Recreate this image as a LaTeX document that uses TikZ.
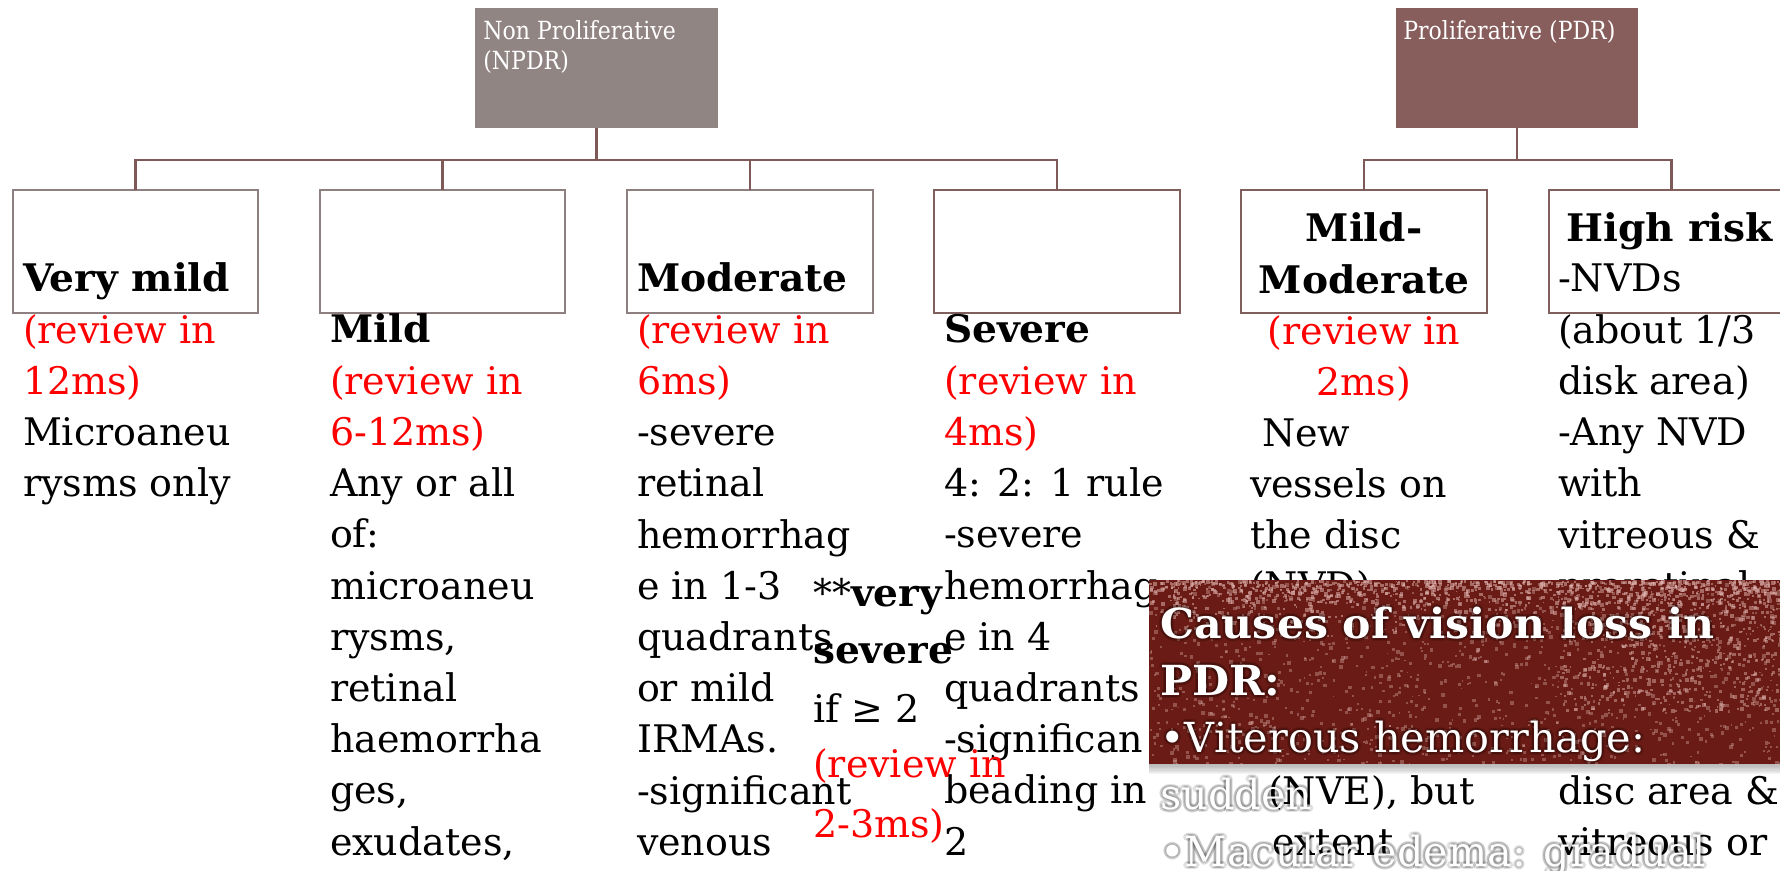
\documentclass[tikz,border=0pt]{standalone}
\usepackage{fontspec}
\setmainfont{DejaVu Serif}[BoldFeatures={FakeStretch=1.03}]
\newfontfamily\labelfont{DejaVu Serif}[FakeStretch=0.88]
\definecolor{npdrfill}{HTML}{918584}
\definecolor{pdrfill}{HTML}{875E5C}
\definecolor{linkcol}{HTML}{7E5957}
\definecolor{boxline}{HTML}{8E8080}
\definecolor{causefill}{HTML}{6B1B15}
\definecolor{speck}{HTML}{E3B9B4}
\newcommand\rv[1]{\textcolor{red}{#1}}
% a column of text lines on a fixed line pitch
\newcommand\bodycol[5]{%
  \foreach \lineT [count=\k from 0] in {#5}{%
    \node[#2] (#1-\k) at (#3,{#4+51.2*\k}) {\lineT};}}
% white text with a soft dark halo
\newcommand\glowtext[4]{%
  \foreach \dx/\dy [count=\g] in {-2/-2,2/-2,-2/2,2/2,0/3,3/0,-3/0,0/-3,0/0}{%
    \node[#4, text=black, opacity=0.12] (#1-g\g) at ({#2+\dx},{#3+\dy}) {\glowT};}%
  \node[#4, text=white] (#1) at (#2,#3) {\glowT};}
\begin{document}
\begin{tikzpicture}[x=0.5pt,y=-0.5pt,
  body/.style={anchor=base west, inner sep=0pt, outer sep=0pt,
    font=\fontsize{19pt}{22pt}\selectfont},
  bodyc/.style={body, anchor=base},
  headtxt/.style={anchor=base west, inner sep=0pt, text=white,
    font=\labelfont\fontsize{12.5pt}{15pt}\selectfont},
  headbox/.style={minimum width=121.2pt, minimum height=60pt,
    inner sep=0pt, outer sep=0pt},
  childbox/.style={draw=boxline, line width=1pt, fill=white,
    minimum width=122.85pt, minimum height=61.5pt, inner sep=0pt, outer sep=0pt},
  conn/.style={draw=linkcol, line width=1.25pt},
  causebox/.style={fill=causefill, minimum width=320.5pt, minimum height=92pt,
    inner sep=0pt, outer sep=0pt},
  causetxt/.style={anchor=base west, inner sep=0pt,
    font=\fontsize{20.7pt}{24pt}\selectfont},
  causebold/.style={causetxt, font=\fontsize{20.7pt}{24pt}\selectfont\bfseries}]
\useasboundingbox (0,0) rectangle (1780,871);
\clip (0,0) rectangle (1780,871);

% top level categories
\node[headbox, fill=npdrfill] (npdr) at (596.5,68.3) {};
\node[headbox, fill=pdrfill] (pdr) at (1517,68.3) {};
\node[headtxt] (npdr-t1) at (483,40) {Non Proliferative};
\node[headtxt] (npdr-t2) at (483,70) {(NPDR)};
\node[headtxt] (pdr-t1) at (1403,40) {Proliferative (PDR)};

% stage boxes
\node[childbox] (b1) at (135.5,251.5) {};
\node[childbox] (b2) at (442.6,251.5) {};
\node[childbox] (b3) at (749.8,251.5) {};
\node[childbox, draw=linkcol!85!boxline] (b4) at (1057,251.5) {};
\node[childbox, draw=linkcol!85!boxline] (b5) at (1364.2,251.5) {};
\node[childbox, draw=linkcol!85!boxline] (b6) at (1671.4,251.5) {};

% tree connectors
\coordinate (busN) at (596.5,160);
\coordinate (busP) at (1517,160);
\draw[conn] (npdr.south) -- (busN);
\draw[conn] (b1.north) |- (busN) -| (b4.north);
\draw[conn] (b2.north) -- (b2.north |- busN);
\draw[conn] (b3.north) -- (b3.north |- busN);
\draw[conn] (pdr.south) -- (busP);
\draw[conn] (b5.north) |- (busP) -| (b6.north);

% NPDR stages
\bodycol{vm}{body}{23}{292}{\textbf{Very mild},%
  \rv{(review in},\rv{12ms)},Microaneu,rysms only}
\bodycol{mi}{body}{330}{343}{\textbf{Mild},%
  \rv{(review in},\rv{6-12ms)},Any or all,of:,microaneu,{rysms,},%
  retinal,haemorrha,{ges,},{exudates,}}
\bodycol{mo}{body}{637}{292}{\textbf{Moderate},%
  \rv{(review in},\rv{6ms)},-severe,retinal,hemorrhag,e in 1-3,%
  quadrants,or mild,IRMAs.,-significant,venous}
\bodycol{se}{body}{944}{343}{\textbf{Severe},%
  \rv{(review in},\rv{4ms)},4: 2: 1 rule,-severe,hemorrhag,e in 4,%
  quadrants,-significan,beading in,2}

% very severe note
\node[body] (vs-0) at (813,606) {**\textbf{very}};
\node[body] (vs-1) at (813,663) {\textbf{severe}};
\node[body] (vs-2) at (813,722) {if ≥ 2};
\node[body] (vs-3) at (813,777) {\rv{(review in}};
\node[body] (vs-4) at (813,837) {\rv{2-3ms)}};

% PDR stages
\bodycol{mm}{bodyc}{1364}{242}{\textbf{Mild-},\textbf{Moderate},%
  \rv{(review in},\rv{2ms)}}
\node[body] (mm-4) at (1250,446) {\ New};
\bodycol{mmb}{body}{1250}{497}{vessels on,the disc,{(NVD)}}
\node[body] (mm-8) at (1268,804) {(NVE), but};
\node[body] (mm-9) at (1272,855) {extent};
\node[bodyc] (hr-0) at (1670,242) {\textbf{High risk}};
\bodycol{hr}{body}{1558}{292}{-NVDs,{(about 1/3},{disk area)},-Any NVD,%
  with,vitreous \&,preretinal}
\node[body] (hr-8) at (1558,804) {disc area \&};
\node[body] (hr-9) at (1558,855) {vitreous or};

% causes of vision loss panel
\foreach \s in {1,...,8}{
  \fill[black, opacity=0.04] (1149,{580+\s}) rectangle (1790,{764+1.3*\s});}
\node[causebox] (cause) at (1469.5,672) {};
\begin{scope}
  \clip (cause.north west) rectangle (cause.south east);
  \pgfmathsetseed{42}
  \foreach \i in {1,...,1300}{
    \pgfmathsetmacro\rx{1149+641*rnd}
    \pgfmathsetmacro\ry{580+184*rnd}
    \pgfmathsetmacro\rs{1.5+2.5*rnd}
    \fill[speck, opacity=0.35] (\rx,\ry) rectangle ++(\rs,\rs);}
  \foreach \i in {1,...,1000}{
    \pgfmathsetmacro\rx{1149+641*rnd}
    \pgfmathsetmacro\ry{580+60*rnd*rnd}
    \pgfmathsetmacro\rs{1.5+2.5*rnd}
    \fill[speck, opacity=0.5] (\rx,\ry) rectangle ++(\rs,\rs);}
  \foreach \i in {1,...,600}{
    \pgfmathsetmacro\rx{1560+230*rnd}
    \pgfmathsetmacro\ry{580+130*rnd}
    \pgfmathsetmacro\rs{1.5+2.5*rnd}
    \fill[speck, opacity=0.45] (\rx,\ry) rectangle ++(\rs,\rs);}
\end{scope}
\def\glowT{Causes of vision loss in}\glowtext{ca-0}{1160}{638}{causebold}
\def\glowT{PDR:}\glowtext{ca-1}{1160}{695}{causebold}
\def\glowT{•Viterous hemorrhage:}\glowtext{ca-2}{1160}{752}{causetxt}
\def\glowT{sudden}\glowtext{ca-3}{1160}{809}{causetxt}
\def\glowT{•Macular edema: gradual}\glowtext{ca-4}{1160}{866}{causetxt}
\end{tikzpicture}
\end{document}
